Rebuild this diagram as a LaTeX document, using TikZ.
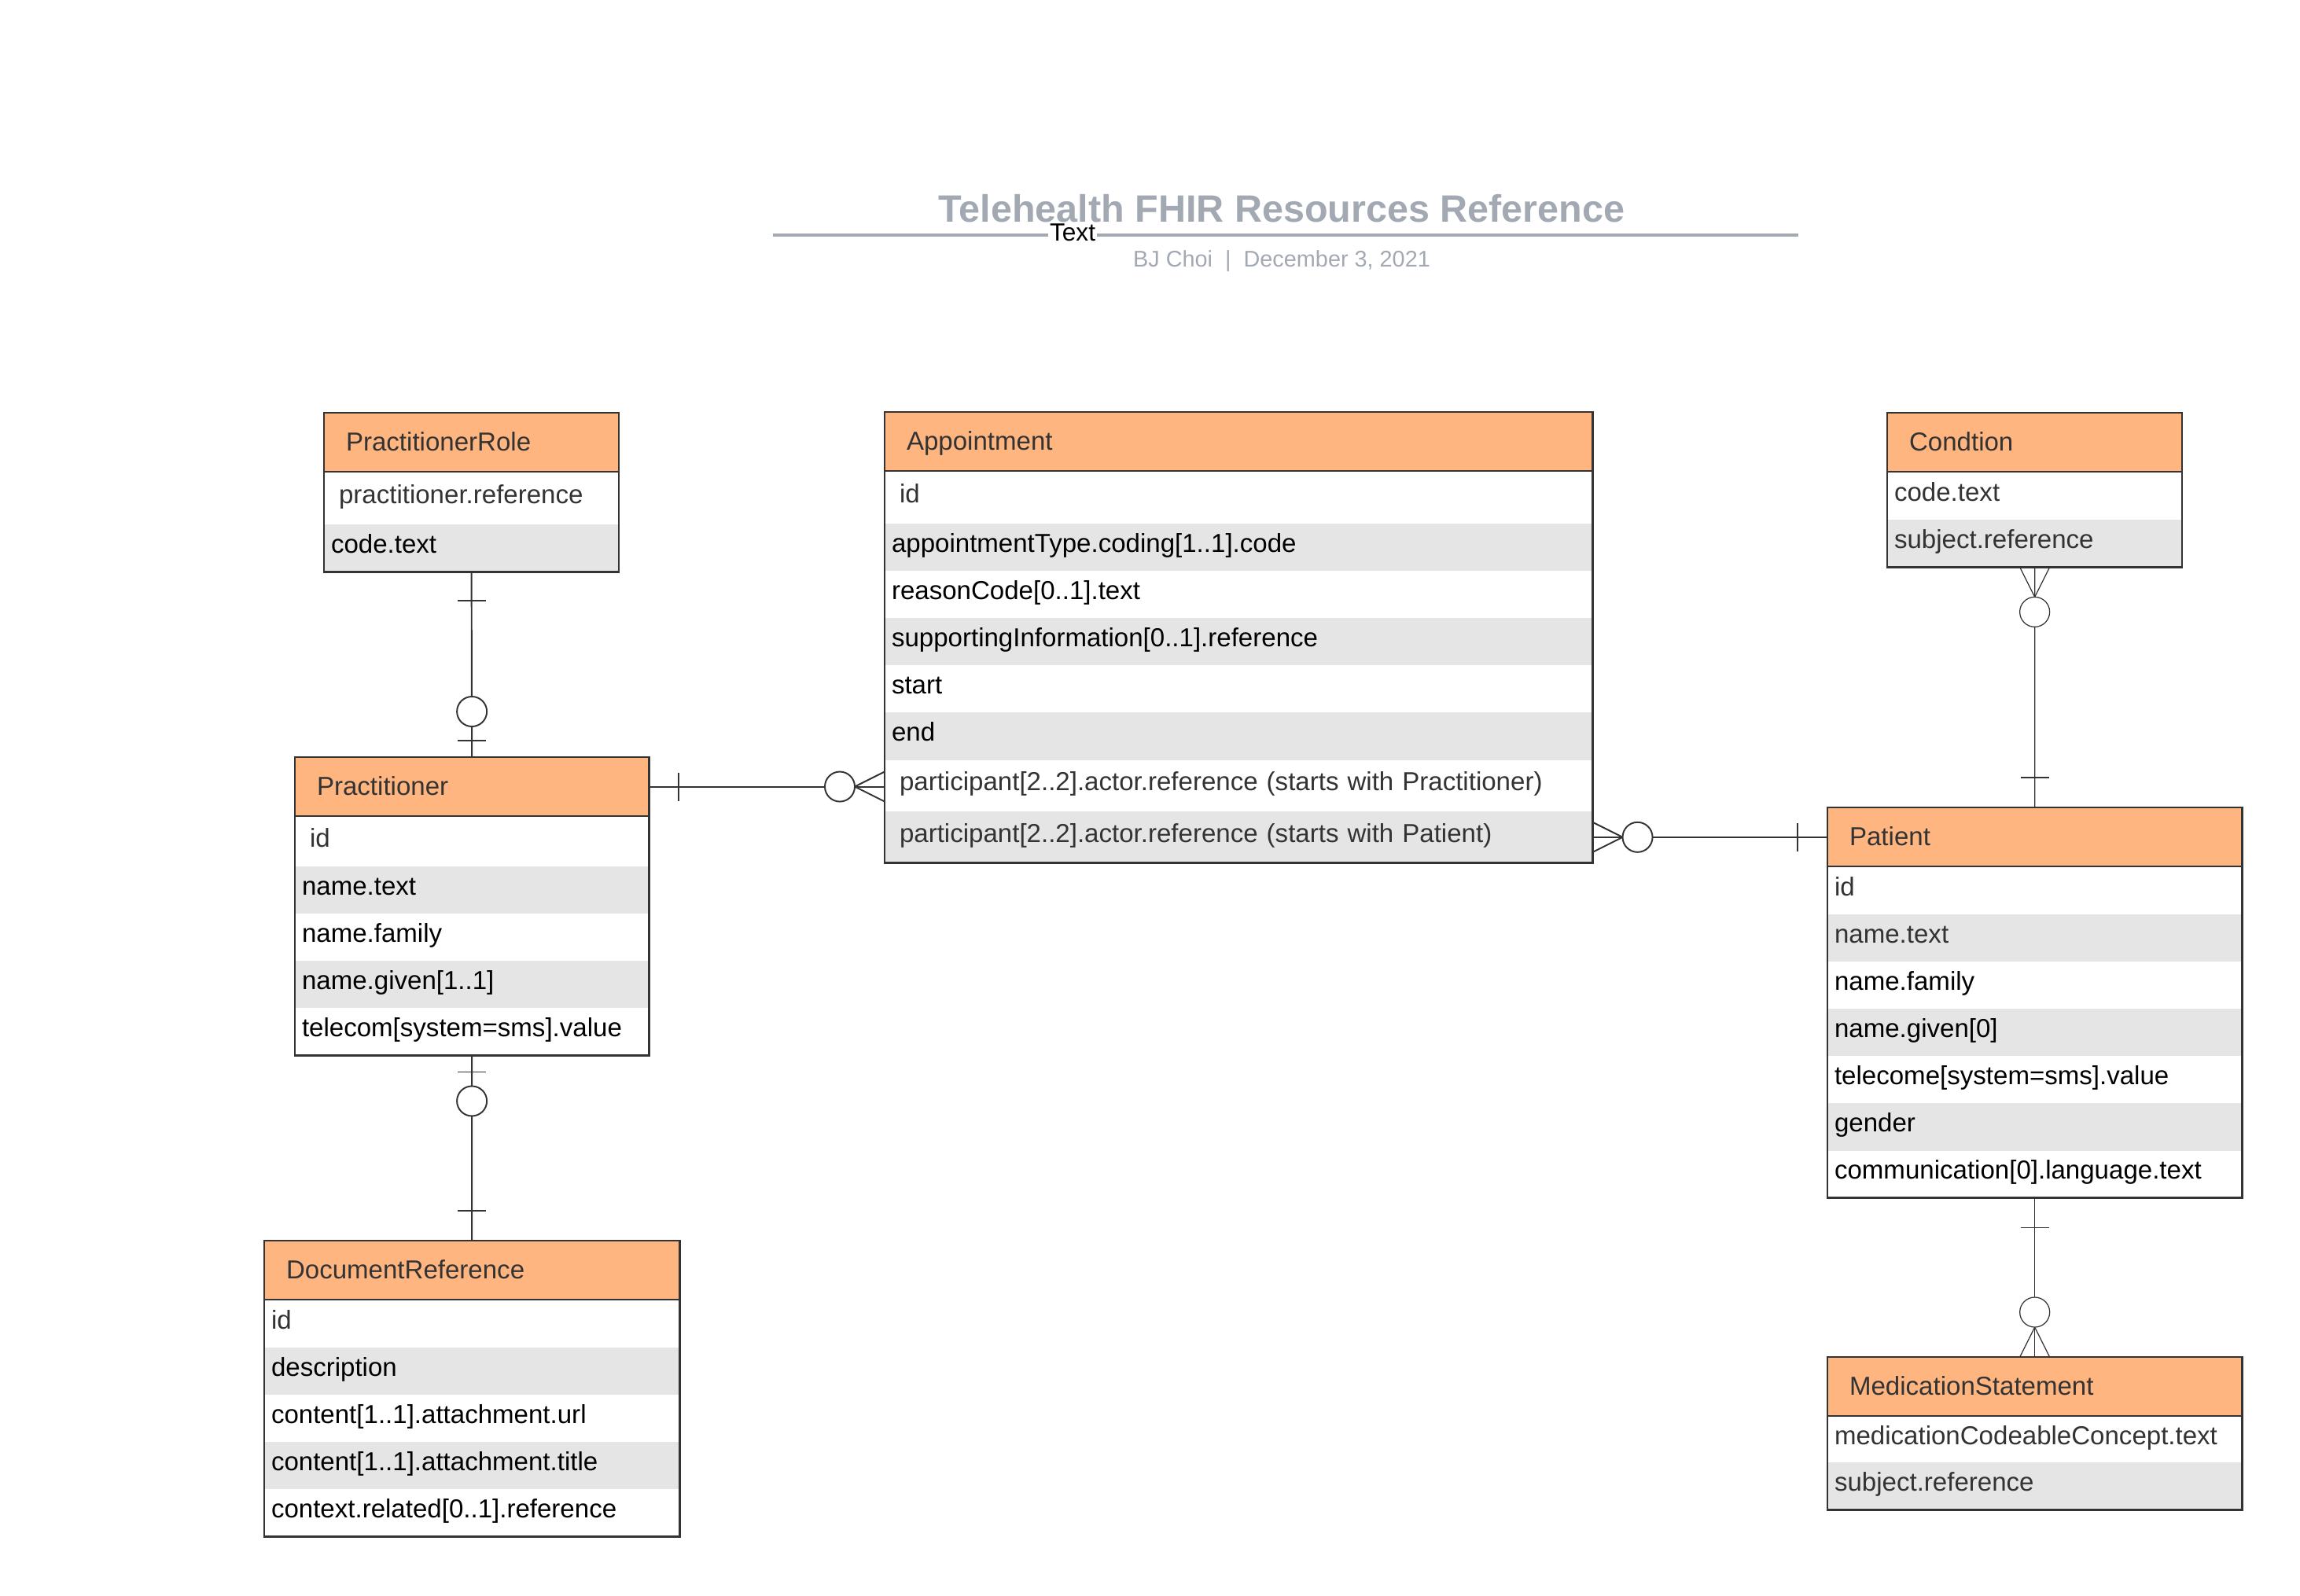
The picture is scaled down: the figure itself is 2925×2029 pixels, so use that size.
\documentclass[tikz,border=0pt]{standalone}
\usepackage{fontspec}
\setmainfont{Liberation Sans}
\usetikzlibrary{
    positioning,
    fit,
    calc
}

\definecolor{ink}{HTML}{333333}
\definecolor{hdrorange}{HTML}{FFB580}
\definecolor{stripe}{HTML}{E5E5E5}
\definecolor{titlegray}{HTML}{A3A9B3}

\begin{document}
\begin{tikzpicture}[
    x=0.01cm,
    y=-0.01cm,
    every node/.style={
        font=\fontsize{9.4pt}{11pt}\selectfont,
        outer sep=0pt
    },
    ehead/.style={
        draw=ink,
        fill=hdrorange,
        line width=0.7pt,
        anchor=north west,
        minimum height=0.75cm,
        inner xsep=0.28cm,
        inner ysep=0pt,
        text width=#1,
        text height=0.72em,
        text depth=0.12em,
        align=left,
        text=ink
    },
    erow/.style={
        anchor=north,
        minimum height=0.6cm,
        inner xsep=0.09cm,
        inner ysep=0pt,
        text width=#1,
        text height=0.6em,
        text depth=0.24em,
        align=left
    },
    rowwhite/.style={fill=white},
    rowgray/.style={fill=stripe},
    indent/.style={
        execute at begin node={\hspace*{0.1cm}},
        text=ink
    },
    ebox/.style={
        draw=ink,
        line width=0.7pt,
        inner sep=0pt
    },
    rel/.style={
        draw=ink,
        line width=0.55pt
    },
    thinrel/.style={
        draw=ink,
        line width=0.35pt
    }
]

    \useasboundingbox (0,0) rectangle (2925,2029);

    % Title block
    \node[
        font=\fontsize{13.8pt}{16pt}\bfseries\selectfont,
        text=titlegray
    ] (title) at (1630,265)
        {Telehealth FHIR Resources Reference};

    \draw[titlegray, line width=1pt]
        (983,299) -- (2287,299);

    \node[
        fill=white,
        inner sep=0.6pt,
        font=\fontsize{9pt}{10pt}\selectfont
    ] (tlabel) at (1364,296)
        {Text};

    \node[
        text=titlegray,
        font=\fontsize{8.2pt}{10pt}\selectfont
    ] (byline) at (1630,332)
        {BJ Choi \ | \ December 3, 2021};

    % PractitionerRole
    \node[ehead=3.19cm] (role-h) at (412,525) {PractitionerRole};
    \node[erow=3.57cm, rowwhite, indent, minimum height=0.66cm,
        below=0.35pt of role-h] (role-1) {practitioner.reference};
    \node[erow=3.57cm, rowgray, below=0pt of role-1] (role-2) {code.text};
    \node[ebox, fit=(role-h)(role-2)] (role) {};

    % Practitioner
    \node[ehead=3.94cm] (prac-h) at (375,963) {Practitioner};
    \node[erow=4.32cm, rowwhite, indent, minimum height=0.63cm,
        below=0.35pt of prac-h] (prac-1) {id};
    \node[erow=4.32cm, rowgray, below=0pt of prac-1] (prac-2) {name.text};
    \node[erow=4.32cm, rowwhite, below=0pt of prac-2] (prac-3) {name.family};
    \node[erow=4.32cm, rowgray, below=0pt of prac-3] (prac-4) {name.given[1..1]};
    \node[erow=4.32cm, rowwhite, below=0pt of prac-4] (prac-5) {telecom[system=sms].value};
    \node[ebox, fit=(prac-h)(prac-5)] (prac) {};

    % DocumentReference
    \node[ehead=4.72cm] (doc-h) at (336,1578) {DocumentReference};
    \node[erow=5.10cm, rowwhite, text=ink, below=0.35pt of doc-h] (doc-1) {id};
    \node[erow=5.10cm, rowgray, below=0pt of doc-1] (doc-2) {description};
    \node[erow=5.10cm, rowwhite, below=0pt of doc-2] (doc-3) {content[1..1].attachment.url};
    \node[erow=5.10cm, rowgray, below=0pt of doc-3] (doc-4) {content[1..1].attachment.title};
    \node[erow=5.10cm, rowwhite, below=0pt of doc-4] (doc-5) {context.related[0..1].reference};
    \node[ebox, fit=(doc-h)(doc-5)] (doc) {};

    % Appointment
    \node[ehead=8.44cm] (appt-h) at (1125,524) {Appointment};
    \node[erow=8.82cm, rowwhite, indent, minimum height=0.66cm,
        below=0.35pt of appt-h] (appt-1) {id};
    \node[erow=8.82cm, rowgray, below=0pt of appt-1] (appt-2) {appointmentType.coding[1..1].code};
    \node[erow=8.82cm, rowwhite, below=0pt of appt-2] (appt-3) {reasonCode[0..1].text};
    \node[erow=8.82cm, rowgray, below=0pt of appt-3] (appt-4) {supportingInformation[0..1].reference};
    \node[erow=8.82cm, rowwhite, below=0pt of appt-4] (appt-5) {start};
    \node[erow=8.82cm, rowgray, below=0pt of appt-5] (appt-6) {end};
    \node[erow=8.82cm, rowwhite, indent, minimum height=0.655cm,
        below=0pt of appt-6] (appt-7)
        {participant[2..2].actor.reference (starts with Practitioner)};
    \node[erow=8.82cm, rowgray, indent, minimum height=0.655cm,
        below=0pt of appt-7] (appt-8)
        {participant[2..2].actor.reference (starts with Patient)};
    \node[ebox, fit=(appt-h)(appt-8)] (appt) {};

    % Condition
    \node[ehead=3.19cm] (cond-h) at (2400,525) {Condtion};
    \node[erow=3.57cm, rowwhite, text=ink, below=0.35pt of cond-h] (cond-1) {code.text};
    \node[erow=3.57cm, rowgray, text=ink, below=0pt of cond-1] (cond-2) {subject.reference};
    \node[ebox, fit=(cond-h)(cond-2)] (cond) {};

    % Patient
    \node[ehead=4.71cm] (pat-h) at (2324,1027) {Patient};
    \node[erow=5.09cm, rowwhite, text=ink, below=0.35pt of pat-h] (pat-1) {id};
    \node[erow=5.09cm, rowgray, text=ink, below=0pt of pat-1] (pat-2) {name.text};
    \node[erow=5.09cm, rowwhite, below=0pt of pat-2] (pat-3) {name.family};
    \node[erow=5.09cm, rowgray, below=0pt of pat-3] (pat-4) {name.given[0]};
    \node[erow=5.09cm, rowwhite, below=0pt of pat-4] (pat-5) {telecome[system=sms].value};
    \node[erow=5.09cm, rowgray, below=0pt of pat-5] (pat-6) {gender};
    \node[erow=5.09cm, rowwhite, below=0pt of pat-6] (pat-7) {communication[0].language.text};
    \node[ebox, fit=(pat-h)(pat-7)] (pat) {};

    % MedicationStatement
    \node[ehead=4.71cm] (med-h) at (2324,1726) {MedicationStatement};
    \node[erow=5.09cm, rowwhite, text=ink, minimum height=0.58cm,
        below=0.35pt of med-h] (med-1) {medicationCodeableConcept.text};
    \node[erow=5.09cm, rowgray, text=ink, below=0pt of med-1] (med-2) {subject.reference};
    \node[ebox, fit=(med-h)(med-2)] (med) {};

    % PractitionerRole -- Practitioner (one to zero-or-one)
    \draw[rel] (role.south) -- (prac.north);
    \draw[rel] ($(role.south)+(-18,37)$) -- ++(36,0);
    \draw[rel] ($(prac.north)+(-18,-21)$) -- ++(36,0);
    \draw[rel, fill=white] ($(prac.north)+(0,-58)$) circle (0.19cm);

    % Practitioner -- DocumentReference (zero-or-one to one)
    \draw[rel] (prac.south) -- (doc.north);
    \draw[rel] ($(prac.south)+(-18,21)$) -- ++(36,0);
    \draw[rel, fill=white] ($(prac.south)+(0,58)$) circle (0.19cm);
    \draw[rel] ($(doc.north)+(-18,-38)$) -- ++(36,0);

    % Practitioner -- Appointment (one to zero-or-many)
    \coordinate (apptL) at (prac-h.east -| appt.west);
    \draw[rel] (prac-h.east) -- (apptL);
    \draw[rel] ($(prac-h.east)+(38,-18)$) -- ++(0,36);
    \draw[rel] ($(apptL)+(0,-19)$) -- ($(apptL)+(-38,0)$) -- ($(apptL)+(0,19)$);
    \draw[rel, fill=white] ($(apptL)+(-57,0)$) circle (0.19cm);

    % Appointment -- Patient (zero-or-many to one)
    \coordinate (patL) at (appt-8.east -| pat.west);
    \draw[rel] (appt-8.east) -- (patL);
    \draw[rel] ($(appt-8.east)+(0,-19)$) -- ($(appt-8.east)+(38,0)$) -- ($(appt-8.east)+(0,19)$);
    \draw[rel, fill=white] ($(appt-8.east)+(57,0)$) circle (0.19cm);
    \draw[rel] ($(patL)+(-38,-18)$) -- ++(0,36);

    % Condition -- Patient (zero-or-many to one)
    \draw[thinrel] (cond.south) -- (pat.north);
    \draw[thinrel] ($(cond.south)+(-19,0)$) -- ($(cond.south)+(0,38)$) -- ($(cond.south)+(19,0)$);
    \draw[thinrel, fill=white] ($(cond.south)+(0,57)$) circle (0.19cm);
    \draw[thinrel] ($(pat.north)+(-18,-38)$) -- ++(36,0);

    % Patient -- MedicationStatement (one to zero-or-many)
    \draw[thinrel] (pat.south) -- (med.north);
    \draw[thinrel] ($(pat.south)+(-18,38)$) -- ++(36,0);
    \draw[thinrel] ($(med.north)+(-19,0)$) -- ($(med.north)+(0,-38)$) -- ($(med.north)+(19,0)$);
    \draw[thinrel, fill=white] ($(med.north)+(0,-57)$) circle (0.19cm);

\end{tikzpicture}
\end{document}
